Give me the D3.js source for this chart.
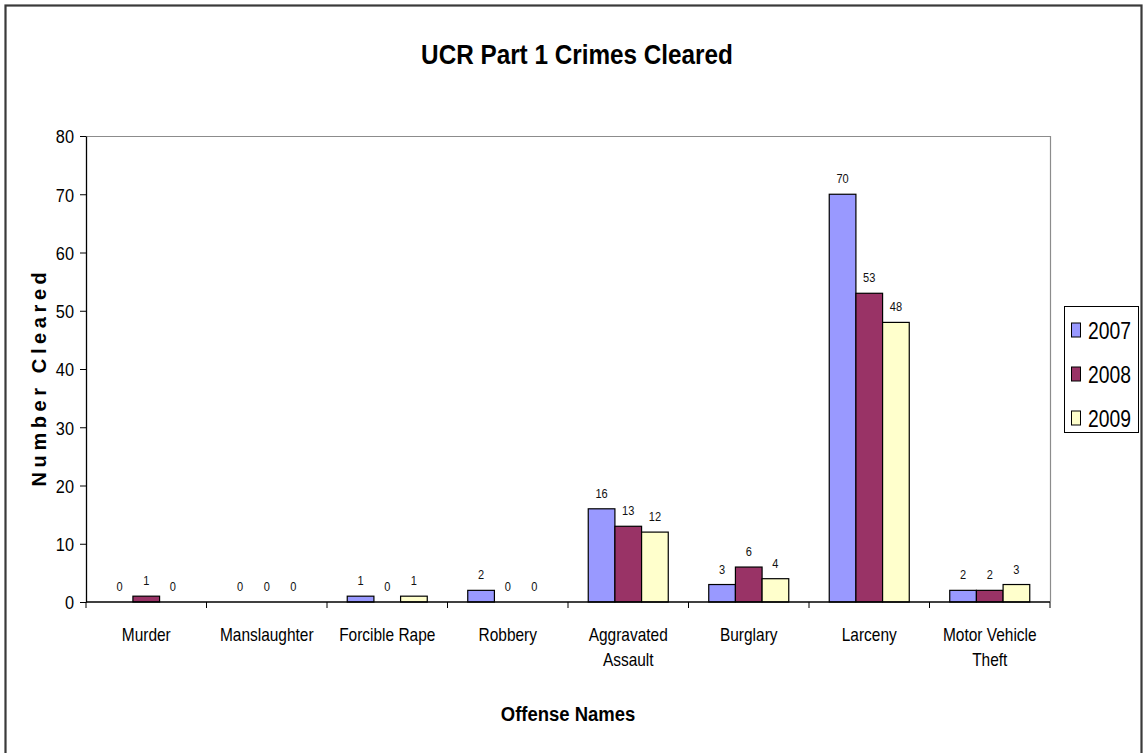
<!DOCTYPE html>
<html>
<head>
<meta charset="utf-8">
<script src="https://cdn.jsdelivr.net/npm/d3@7"></script>
<style>
  body { margin: 0; background: #fff; }
  svg { display: block; font-family: "Liberation Sans", Arial, sans-serif; }
</style>
</head>
<body>
<svg id="chart" width="1143" height="753"></svg>
<script>
// ====================================================================
// data
var categories = ["Murder", "Manslaughter", "Forcible Rape", "Robbery",
  "Aggravated Assault", "Burglary", "Larceny", "Motor Vehicle Theft"];
var years = ["2007", "2008", "2009"];
var values_2007 = [0, 0, 1, 2, 16, 3, 70, 2];
var values_2008 = [1, 0, 0, 0, 13, 6, 53, 2];
var values_2009 = [0, 0, 1, 0, 12, 4, 48, 3];
var y_ticks = [0, 10, 20, 30, 40, 50, 60, 70, 80];
// ====================================================================

var series = [values_2007, values_2008, values_2009];
var colors = ["#9999FF", "#993366", "#FFFFCC"];

// category labels that wrap onto two lines
var label_lines = {
  "Aggravated Assault": ["Aggravated", "Assault"],
  "Motor Vehicle Theft": ["Motor Vehicle", "Theft"]
};

// the original text is drawn a bit narrow, so squeeze it horizontally
function fn_narrow_text(parent, x_pos, y_pos, sx) {
  return parent.append("g")
    .attr("transform", "translate(" + x_pos + "," + y_pos + ") scale(" + sx + ",1)")
    .append("text");
}

var margin = {top: 136, left: 86, right: 93, bottom: 151};
var width = 1143 - margin.left - margin.right,
    height = 753 - margin.top - margin.bottom;

var svg = d3.select("#chart");

// outer chart border
svg.append("rect")
  .attr("x", 5.5).attr("y", 5.5)
  .attr("width", 1136).attr("height", 760)
  .attr("fill", "none")
  .attr("stroke", "#3a3a3a")
  .attr("stroke-width", 2.2);

var g = svg.append("g")
  .attr("transform", "translate(" + margin.left + "," + margin.top + ")");

// scales
var x = d3.scaleBand().domain(categories).range([0, width]).paddingInner(0).paddingOuter(0);
var x_inner = d3.scaleBand().domain(years)
  .range([x.bandwidth() * 0.168, x.bandwidth() * 0.832]);
var y = d3.scaleLinear().domain([0, 80]).range([height, 0]);

// plot area border (top and right)
g.append("path")
  .attr("d", "M0,0.5H" + (width + 0.5) + "V" + height)
  .attr("fill", "none")
  .attr("stroke", "#8c8c8c")
  .attr("stroke-width", 1.2);

// bars
var grp = g.selectAll(".cat")
  .data(categories)
  .enter().append("g")
  .attr("class", "cat")
  .attr("transform", function(d) { return "translate(" + x(d) + ",0)"; });

grp.each(function(cat, ci) {
  var sel = d3.select(this);
  years.forEach(function(yr, si) {
    var v = series[si][ci];
    if (v > 0) {
      sel.append("rect")
        .attr("x", x_inner(yr))
        .attr("y", y(v))
        .attr("width", x_inner.bandwidth())
        .attr("height", y(0) - y(v))
        .attr("fill", colors[si])
        .attr("stroke", "#000")
        .attr("stroke-width", 1.2);
    }
    fn_narrow_text(sel, x_inner(yr) + x_inner.bandwidth() / 2, y(v) - 11, 0.85)
      .attr("text-anchor", "middle")
      .style("font-size", "13px")
      .style("fill", "#111")
      .text(v);
  });
});

// y axis
var y_axis = g.append("g")
  .call(d3.axisLeft(y).tickValues(y_ticks).tickSize(6).tickPadding(5).tickSizeOuter(0));
y_axis.select(".domain").attr("stroke", "#000").attr("stroke-width", 1.3);
y_axis.selectAll(".tick line").attr("stroke", "#000");
y_axis.selectAll(".tick text").remove();
y_axis.selectAll(".tick").each(function(d) {
  fn_narrow_text(d3.select(this), -12, 0, 0.86)
    .attr("dy", "0.36em")
    .attr("text-anchor", "end")
    .style("font-size", "19px")
    .style("fill", "#000")
    .text(d);
});

// x axis with ticks at band boundaries
var x_axis = g.append("g").attr("transform", "translate(0," + height + ")");
x_axis.append("line")
  .attr("x1", 0).attr("x2", width)
  .attr("stroke", "#000").attr("stroke-width", 1.3);
x_axis.selectAll(".xtick")
  .data(categories.concat(["end"]))
  .enter().append("line")
  .attr("x1", function(d, i) { return i < categories.length ? x(d) : width; })
  .attr("x2", function(d, i) { return i < categories.length ? x(d) : width; })
  .attr("y1", 0).attr("y2", 6)
  .attr("stroke", "#000");

categories.forEach(function(d) {
  var lines = label_lines[d] || [d];
  var t = fn_narrow_text(x_axis, x(d) + x.bandwidth() / 2, 39, 0.86)
    .attr("text-anchor", "middle")
    .style("font-size", "18px")
    .style("fill", "#000");
  lines.forEach(function(ln, i) {
    t.append("tspan")
      .attr("x", 0)
      .attr("dy", i === 0 ? 0 : 25)
      .text(ln);
  });
});

// titles
fn_narrow_text(svg, 577, 64, 0.9)
  .attr("text-anchor", "middle")
  .style("font-size", "27px").style("font-weight", "bold")
  .text("UCR Part 1 Crimes Cleared");

fn_narrow_text(svg, 568, 721, 0.88)
  .attr("text-anchor", "middle")
  .style("font-size", "21px").style("font-weight", "bold")
  .text("Offense Names");

svg.append("text")
  .attr("transform", "translate(46,377) rotate(-90)")
  .attr("text-anchor", "middle")
  .style("font-size", "20px").style("font-weight", "bold")
  .style("letter-spacing", "4.6px")
  .text("Number Cleared");

// legend
var legend = svg.append("g").attr("transform", "translate(1064,306)");
legend.append("rect")
  .attr("x", 0.5).attr("y", 0.5)
  .attr("width", 74).attr("height", 126)
  .attr("fill", "#fff")
  .attr("stroke", "#000").attr("stroke-width", 1);
years.forEach(function(yr, i) {
  var row = legend.append("g").attr("transform", "translate(0," + (17 + i * 44) + ")");
  row.append("rect")
    .attr("x", 7.5).attr("y", 0)
    .attr("width", 9).attr("height", 14)
    .attr("fill", colors[i])
    .attr("stroke", "#000");
  fn_narrow_text(row, 24, 16, 0.84)
    .style("font-size", "23px")
    .text(yr);
});
</script>
</body>
</html>
